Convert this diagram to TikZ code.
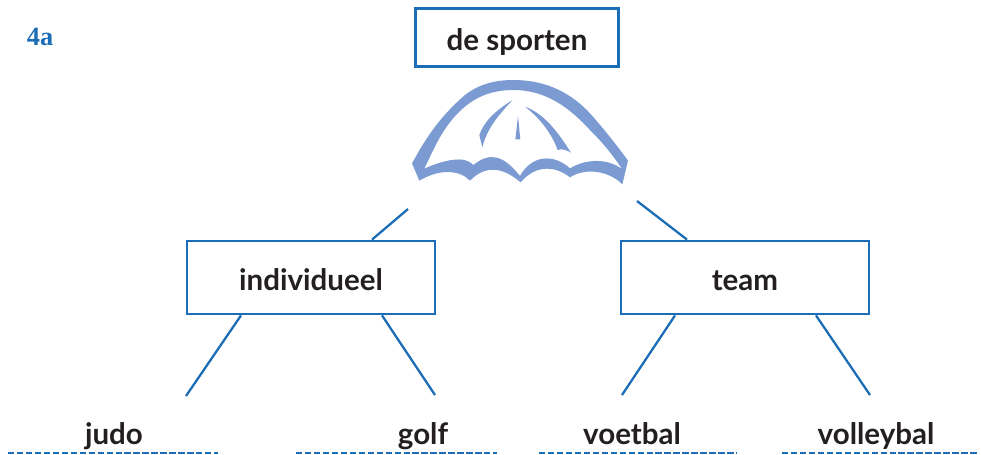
\documentclass[tikz,border=0pt]{standalone}
\usepackage{fontspec}
\setmainfont{Lato}
\newfontfamily\numberfont{Liberation Serif}
\usetikzlibrary{positioning}
\definecolor{boxblue}{HTML}{1B6DB6}
\definecolor{umbrellablue}{HTML}{7B9BD2}
\definecolor{wordblack}{HTML}{231F20}
\tikzset{
	box/.style = {draw = boxblue, line width = 1.6pt, minimum width = 4.96cm, minimum height = 1.46cm, inner sep = 0pt, text height = 0.52cm, text depth = 0pt, text = wordblack, font = \fontsize{16.8}{18}\selectfont\bfseries},
	word/.style = {text = wordblack, inner sep = 0pt, font = \fontsize{16.8}{18}\selectfont\bfseries},
	link/.style = {draw = boxblue, line width = 1.3pt},
	answer/.style = {draw = boxblue, line width = 1pt, dash pattern = on 3.6pt off 1.5pt}
}
\begin{document}
\begin{tikzpicture}[x = 0.02cm, y = -0.02cm]
	\useasboundingbox (0, 0) rectangle (981, 454);
	\node[text = boxblue, inner sep = 0pt, font = \fontsize{15}{17}\selectfont\bfseries\numberfont] (exercise) at (40, 37) {4a};
	% boxes
	\node[box, minimum width = 4.06cm, minimum height = 1.16cm] (sporten) at (517, 37.5) {de sporten};
	\node[box] (individueel) at (311, 277.5) {individueel};
	\node[box] (team) at (745, 277.5) {team};
	% umbrella
	\begin{scope}[shift = {(390, 70)}, x = 0.00667cm, y = -0.00667cm]
		\fill[umbrellablue, even odd rule] (66, 280) .. controls (110, 200) and (150, 140) .. (225, 75)
			.. controls (270, 40) and (320, 30) .. (370, 30)
			.. controls (450, 30) and (530, 55) .. (600, 130)
			.. controls (640, 175) and (680, 225) .. (714, 272) -- (697, 343)
			.. controls (660, 305) and (590, 290) .. (540, 322)
			.. controls (500, 290) and (440, 280) .. (392, 337)
			.. controls (360, 310) and (300, 270) .. (240, 332)
			.. controls (210, 300) and (150, 295) .. (88, 332) -- cycle
			(103, 296) .. controls (160, 270) and (225, 255) .. (250, 285)
			.. controls (300, 245) and (340, 255) .. (390, 318)
			.. controls (425, 255) and (490, 250) .. (540, 295)
			.. controls (590, 265) and (655, 265) .. (697, 298)
			.. controls (665, 250) and (635, 215) .. (600, 180)
			.. controls (540, 115) and (470, 60) .. (370, 60)
			.. controls (280, 60) and (220, 100) .. (170, 170)
			.. controls (145, 205) and (125, 250) .. (103, 296) -- cycle;
		\fill[umbrellablue] (368, 90) .. controls (310, 125) and (280, 160) .. (268, 195) -- (277, 232) .. controls (290, 180) and (320, 140) .. (368, 90) -- cycle;
		\fill[umbrellablue] (384, 138) -- (376, 208) -- (391, 208) -- cycle;
		\fill[umbrellablue] (405, 110) .. controls (460, 130) and (500, 180) .. (543, 248) .. controls (530, 240) and (515, 235) .. (503, 240) .. controls (485, 190) and (450, 145) .. (405, 110) -- cycle;
	\end{scope}
	% words
	\node[word, anchor = base] (judo) at (114, 444) {judo};
	\node[word, anchor = base] (golf) at (423, 444) {golf};
	\node[word, anchor = base] (voetbal) at (632, 444) {voetbal};
	\node[word, anchor = base] (volleybal) at (876, 444) {volleybal};
	% free ends
	\coordinate (leftend) at (408, 209);
	\coordinate (rightend) at (637, 201);
	\coordinate (judoend) at (186, 396);
	\coordinate (golfend) at (435, 395);
	\coordinate (voetbalend) at (622, 395);
	\coordinate (volleybalend) at (870, 395);
	% connectors
	\draw[link] ([xshift = 1.22cm]individueel.north) -- (leftend);
	\draw[link] ([xshift = -1.16cm]team.north) -- (rightend);
	\draw[link] ([xshift = -1.4cm]individueel.south) -- (judoend);
	\draw[link] ([xshift = 1.42cm]individueel.south) -- (golfend);
	\draw[link] ([xshift = -1.4cm]team.south) -- (voetbalend);
	\draw[link] ([xshift = 1.42cm]team.south) -- (volleybalend);
	% answer lines
	\coordinate (judostart) at (8, 453);
	\coordinate (judostop) at (218, 453);
	\coordinate (golfstart) at (296, 453);
	\coordinate (golfstop) at (497, 453);
	\coordinate (voetbalstart) at (539, 453);
	\coordinate (voetbalstop) at (737, 453);
	\coordinate (volleybalstart) at (782, 453);
	\coordinate (volleybalstop) at (978, 453);
	\draw[answer] (judostart) -- (judostop);
	\draw[answer] (golfstart) -- (golfstop);
	\draw[answer] (voetbalstart) -- (voetbalstop);
	\draw[answer] (volleybalstart) -- (volleybalstop);
\end{tikzpicture}
\end{document}
